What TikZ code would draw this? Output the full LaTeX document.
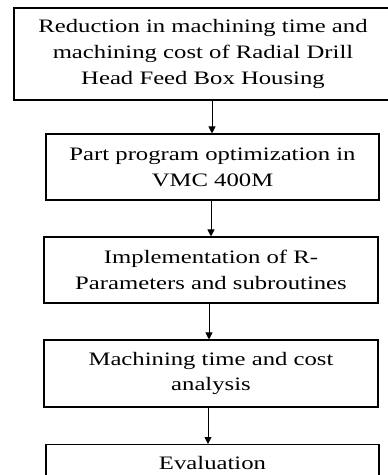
\documentclass[tikz,border=0pt]{standalone}
\usepackage{fontspec}
\setmainfont{Liberation Serif}[FakeStretch=1.3]
\usetikzlibrary{arrows.meta}
\tikzset{
    stepbox/.style={draw, line width=1.1pt, align=center, inner sep=0pt,
        font=\fontsize{19}{25.7}\selectfont},
    flow/.style={line width=1pt, -{Triangle[length=7pt,width=7pt]}}
}
\begin{document}
\begin{tikzpicture}[x=1pt,y=-1pt]
    \useasboundingbox (0,0) rectangle (388,475);
    \clip (0,0) rectangle (388,475);

    \node[stepbox, minimum width=378pt, minimum height=92pt] (goal) at (203,54)
        {Reduction in machining time and\\machining cost of Radial Drill\\Head Feed Box Housing};
    \node[stepbox, minimum width=333pt, minimum height=66pt] (program) at (212.5,167)
        {Part program optimization in\\VMC 400M};
    \node[stepbox, minimum width=334pt, minimum height=66pt] (rparam) at (211,270)
        {Implementation of R-\\Parameters and subroutines};
    \node[stepbox, minimum width=334pt, minimum height=67pt] (analysis) at (211,373.5)
        {Machining time and cost\\analysis};
    \node[stepbox, minimum width=333pt, minimum height=36pt, anchor=north] (evaluation) at (212.5,444)
        {Evaluation};

    \draw[flow] (212,100) -- (program.north -| 212,0);
    \draw[flow] (program.south -| 211,0) -- (rparam.north -| 211,0);
    \draw[flow] (rparam.south -| 209,0) -- (analysis.north -| 209,0);
    \draw[flow] (analysis.south -| 208,0) -- (evaluation.north -| 208,0);
\end{tikzpicture}
\end{document}
